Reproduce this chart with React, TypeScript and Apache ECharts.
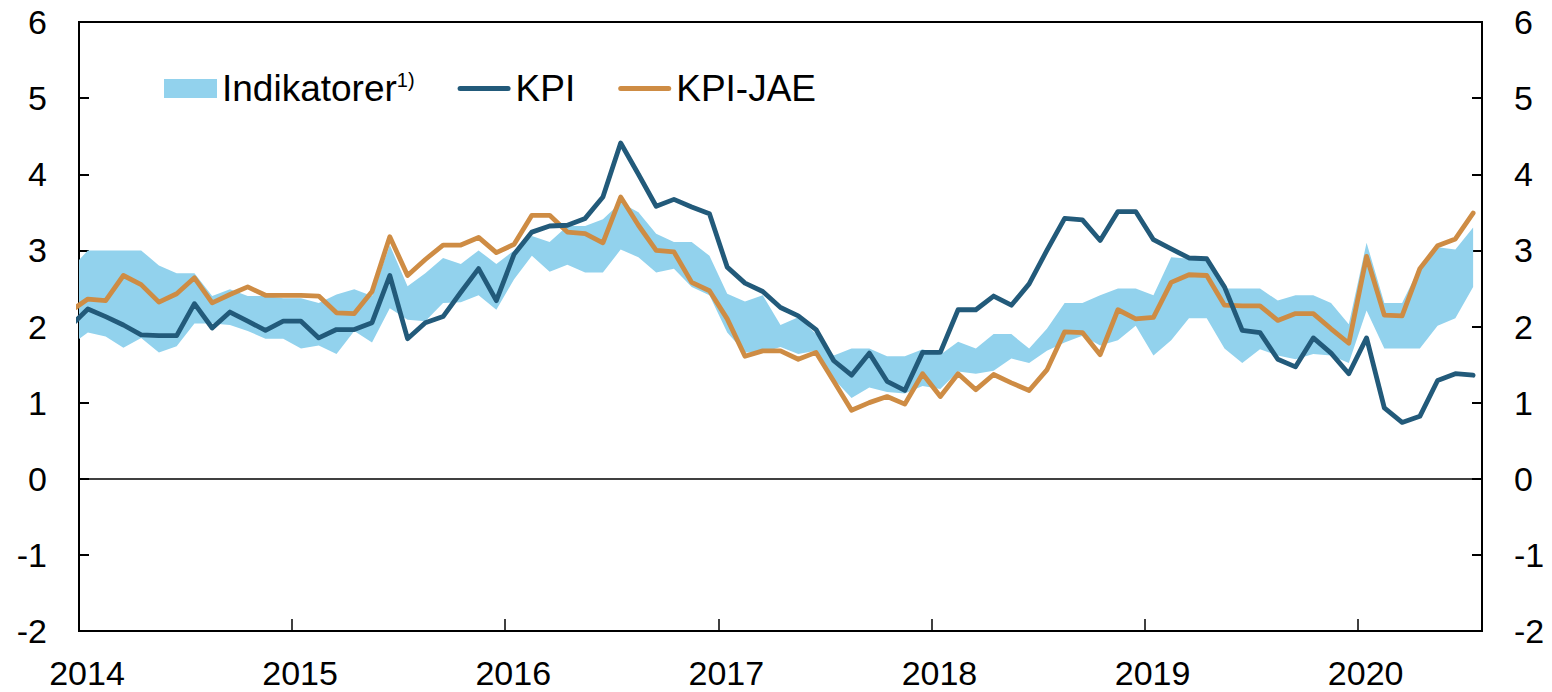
import { useEffect, useRef } from 'react';
import * as echarts from 'echarts';

// Months from Dec 2013 to Jul 2020 (80 months)
const months: string[] = (() => {
  const out: string[] = ['2013-12'];
  for (let y = 2014; y <= 2020; y++) {
    for (let m = 1; m <= 12; m++) {
      if (y === 2020 && m > 7) break;
      out.push(`${y}-${String(m).padStart(2, '0')}`);
    }
  }
  return out;
})();

const yearLabels = ['2014', '2015', '2016', '2017', '2018', '2019', '2020'];
const yTicks = [-2, -1, 0, 1, 2, 3, 4, 5, 6];

const kpi = [
  2.0,
  2.23, 2.13, 2.02, 1.89, 1.88, 1.88, 2.30, 1.98, 2.19, 2.07, 1.95, 2.07,
  2.07, 1.85, 1.96, 1.96, 2.05, 2.67, 1.84, 2.05, 2.13, 2.45, 2.76, 2.34,
  2.95, 3.24, 3.32, 3.33, 3.42, 3.70, 4.41, 4.00, 3.58, 3.67, 3.57, 3.48,
  2.78, 2.57, 2.46, 2.25, 2.14, 1.96, 1.55, 1.36, 1.65, 1.28, 1.16, 1.66,
  1.66, 2.22, 2.22, 2.40, 2.28, 2.56, 3.00, 3.42, 3.40, 3.13, 3.51, 3.51,
  3.14, 3.02, 2.90, 2.89, 2.52, 1.95, 1.92, 1.57, 1.47, 1.85, 1.65, 1.38,
  1.85, 0.93, 0.74, 0.82, 1.29, 1.38, 1.36,
];

const kpiJae = [
  2.2,
  2.36, 2.34, 2.67, 2.55, 2.32, 2.43, 2.64, 2.31, 2.42, 2.52, 2.41, 2.41,
  2.41, 2.40, 2.18, 2.17, 2.46, 3.18, 2.67, 2.88, 3.07, 3.07, 3.17, 2.97,
  3.08, 3.46, 3.46, 3.24, 3.22, 3.10, 3.70, 3.33, 3.00, 2.98, 2.58, 2.47,
  2.10, 1.61, 1.68, 1.68, 1.57, 1.66, 1.28, 0.90, 1.00, 1.08, 0.98, 1.38,
  1.08, 1.38, 1.17, 1.37, 1.26, 1.16, 1.43, 1.93, 1.92, 1.63, 2.22, 2.10,
  2.12, 2.58, 2.68, 2.67, 2.28, 2.27, 2.27, 2.08, 2.17, 2.17, 1.97, 1.78,
  2.92, 2.15, 2.14, 2.76, 3.06, 3.15, 3.49,
];

const indHigh = [
  2.75,
  3.00, 3.00, 3.00, 3.00, 2.80, 2.70, 2.70, 2.40, 2.49, 2.40, 2.40, 2.37,
  2.37, 2.31, 2.42, 2.49, 2.40, 3.07, 2.53, 2.70, 2.90, 2.82, 3.00, 2.82,
  3.00, 3.19, 3.11, 3.32, 3.32, 3.41, 3.63, 3.50, 3.22, 3.11, 3.11, 2.93,
  2.43, 2.33, 2.41, 2.02, 2.12, 1.90, 1.62, 1.71, 1.71, 1.61, 1.61, 1.70,
  1.63, 1.80, 1.71, 1.90, 1.90, 1.71, 1.97, 2.31, 2.31, 2.41, 2.50, 2.50,
  2.41, 2.91, 2.89, 2.87, 2.50, 2.50, 2.50, 2.34, 2.41, 2.41, 2.31, 2.03,
  3.10, 2.31, 2.31, 2.78, 3.04, 3.01, 3.30,
];

const indLow = [
  1.75,
  1.92, 1.87, 1.72, 1.85, 1.66, 1.74, 2.04, 2.04, 2.02, 1.94, 1.84, 1.84,
  1.71, 1.75, 1.64, 1.94, 1.79, 2.24, 2.09, 2.07, 2.31, 2.32, 2.41, 2.22,
  2.62, 2.93, 2.72, 2.81, 2.71, 2.71, 3.01, 2.91, 2.71, 2.76, 2.52, 2.41,
  1.92, 1.66, 1.66, 1.73, 1.64, 1.68, 1.31, 1.06, 1.20, 1.14, 1.12, 1.22,
  1.18, 1.41, 1.38, 1.42, 1.58, 1.52, 1.68, 1.79, 1.88, 1.75, 1.82, 2.01,
  1.62, 1.82, 2.11, 2.11, 1.71, 1.52, 1.70, 1.62, 1.57, 1.64, 1.62, 1.52,
  2.21, 1.71, 1.71, 1.71, 2.01, 2.11, 2.52,
];

const FONT = "'Liberation Sans', Arial, Helvetica, sans-serif";
const BAND = '#92D2ED';
const KPI_COLOR = '#225A7A';
const JAE_COLOR = '#CE8C44';
const LINE_ICON = 'path://M2.5,0 H50.5 A2.5,2.5 0 0 1 50.5,5 H2.5 A2.5,2.5 0 0 1 2.5,0 Z';

// x position: month boundary units; Jan 2014 centred at 0.5
const xPos = months.map((_, k) => k - 0.5);

export default function App() {
  const ref = useRef<HTMLDivElement>(null);

  useEffect(() => {
    if (!ref.current) return;
    const chart = echarts.init(ref.current, undefined, { renderer: 'svg' });

    const yAxisCommon = {
      type: 'value' as const,
      min: -2,
      max: 6,
      interval: 1,
      splitLine: { show: false },
      axisLine: { show: true, lineStyle: { color: '#000', width: 2 } },
      axisTick: { show: true, inside: true, length: 10, lineStyle: { color: '#000', width: 2 } },
      axisLabel: {
        margin: 32,
        color: '#000',
        fontSize: 34,
        fontFamily: FONT,
        formatter: (v: number) => (yTicks.includes(v) ? String(v) : ''),
      },
    };

    chart.setOption({
      animation: false,
      backgroundColor: '#fff',
      grid: {
        left: 79,
        right: 70,
        top: 22,
        bottom: 61,
        show: true,
        borderColor: '#000',
        borderWidth: 2,
        backgroundColor: 'transparent',
        outerBoundsMode: 'none',
      },
      legend: {
        left: 164,
        top: 70,
        padding: 0,
        itemWidth: 53,
        itemHeight: 19,
        itemGap: 43,
        selectedMode: false,
        data: [
          { name: 'Indikatorer', icon: 'rect' },
          { name: 'KPI', icon: LINE_ICON },
          { name: 'KPI-JAE', icon: LINE_ICON },
        ],
        textStyle: {
          fontSize: 37,
          color: '#000',
          fontFamily: FONT,
          rich: {
            sup: { fontSize: 20, color: '#000', fontFamily: FONT, verticalAlign: 'top' },
          },
        },
        formatter: (name: string) => (name === 'Indikatorer' ? 'Indikatorer{sup|1)}' : name),
      },
      xAxis: {
        type: 'value',
        min: 0,
        max: 79,
        interval: 12,
        splitLine: { show: false },
        axisLine: { show: true, onZero: false, lineStyle: { color: '#000', width: 2 } },
        axisTick: { show: true, inside: true, length: 12, lineStyle: { color: '#000', width: 1.5 } },
        axisLabel: {
          margin: 28,
          color: '#000',
          fontSize: 34,
          lineHeight: 28,
          fontFamily: FONT,
          padding: [0, 0, 0, 16],
          showMaxLabel: false,
          formatter: (v: number) => (v % 12 === 0 && yearLabels[v / 12] ? yearLabels[v / 12] : ''),
        },
      },
      yAxis: [
        { ...yAxisCommon, position: 'left' },
        { ...yAxisCommon, position: 'right' },
      ],
      series: [
        {
          name: 'Indikatorer',
          type: 'custom',
          clip: true,
          silent: true,
          itemStyle: { color: BAND },
          data: xPos.map((x, k) => [x, indLow[k], indHigh[k]]),
          encode: { x: 0, y: [1, 2] },
          renderItem: (params: any, api: any) => {
            if (params.dataIndex !== 0) return null;
            const top = xPos.map((x, k) => api.coord([x, indHigh[k]]));
            const bottom = xPos.map((x, k) => api.coord([x, indLow[k]])).reverse();
            return {
              type: 'polygon',
              shape: { points: top.concat(bottom) },
              style: { fill: BAND },
            };
          },
          z: 1,
        },
        {
          name: 'KPI',
          type: 'line',
          symbol: 'none',
          color: KPI_COLOR,
          itemStyle: { color: KPI_COLOR },
          lineStyle: { color: KPI_COLOR, width: 4.8, cap: 'round', join: 'round' },
          data: xPos.map((x, k) => [x, kpi[k]]),
          clip: true,
          z: 3,
          markLine: {
            silent: true,
            symbol: 'none',
            label: { show: false },
            lineStyle: { color: '#000', width: 1.5, type: 'solid' },
            data: [{ yAxis: 0 }],
          },
        },
        {
          name: 'KPI-JAE',
          type: 'line',
          symbol: 'none',
          color: JAE_COLOR,
          itemStyle: { color: JAE_COLOR },
          lineStyle: { color: JAE_COLOR, width: 4.8, cap: 'round', join: 'round' },
          data: xPos.map((x, k) => [x, kpiJae[k]]),
          clip: true,
          z: 2,
        },
      ],
    });

    return () => chart.dispose();
  }, []);

  return (
    <div
      ref={ref}
      style={{ position: 'fixed', left: 0, top: 0, width: 1552, height: 692, background: '#fff' }}
    />
  );
}
